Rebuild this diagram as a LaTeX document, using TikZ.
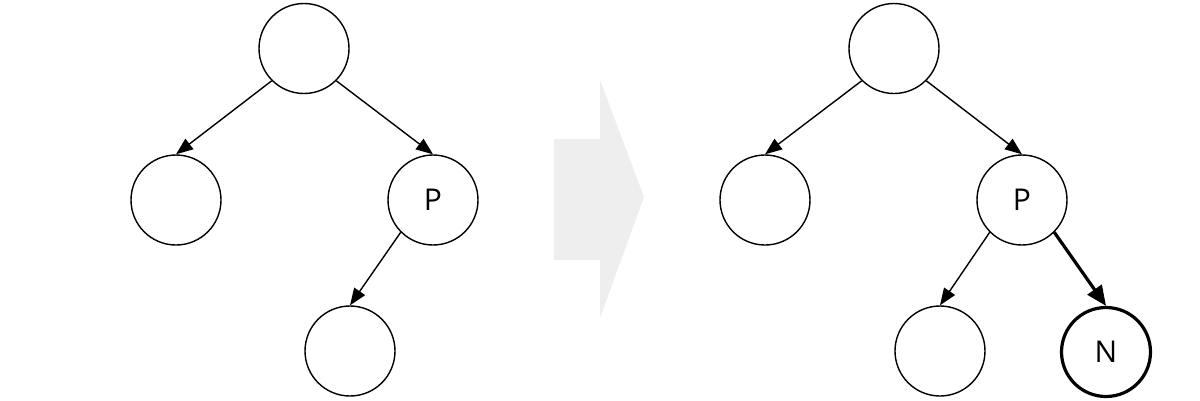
\documentclass[tikz,border=0pt]{standalone}
\usepackage{fontspec}
\setmainfont{Open Sans}
\usetikzlibrary{arrows.meta}
\begin{document}
\begin{tikzpicture}[x=1pt,y=-1pt,
  tnode/.style={circle,draw=black,line width=1.4pt,minimum size=90pt,inner sep=0pt,font=\fontsize{30}{32}\selectfont},
  newnode/.style={tnode,line width=3.2pt,minimum size=89pt},
  edge/.style={line width=1.4pt,-{Triangle[length=17pt,width=13pt]}},
  newedge/.style={line width=3.2pt,-{Triangle[length=20pt,width=17pt]}}]
\useasboundingbox (0,0) rectangle (1200,400);
% left tree
\node[tnode] (r1) at (304,48.5) {};
\node[tnode] (a1) at (176,200) {};
\node[tnode] (p1) at (433,200) {P};
\node[tnode] (b1) at (350,351) {};
\draw[edge] (r1.south west) -- (a1.north);
\draw[edge] (r1.south east) -- (p1.north);
\draw[edge] (p1.south west) -- (b1.north);
% big arrow
\fill[fill={rgb,255:red,238;green,238;blue,238}] (554,139) -- (600,139) -- (600,80) -- (644,197) -- (600,318) -- (600,260) -- (554,260) -- cycle;
% right tree
\node[tnode] (r2) at (894,48.5) {};
\node[tnode] (a2) at (765,200) {};
\node[tnode] (p2) at (1022,200) {P};
\node[tnode] (b2) at (940,351) {};
\node[newnode] (n2) at (1106,352) {N};
\draw[edge] (r2.south west) -- (a2.north);
\draw[edge] (r2.south east) -- (p2.north);
\draw[edge] (p2.south west) -- (b2.north);
\draw[newedge] (p2.south east) -- (n2.north);
\end{tikzpicture}
\end{document}
